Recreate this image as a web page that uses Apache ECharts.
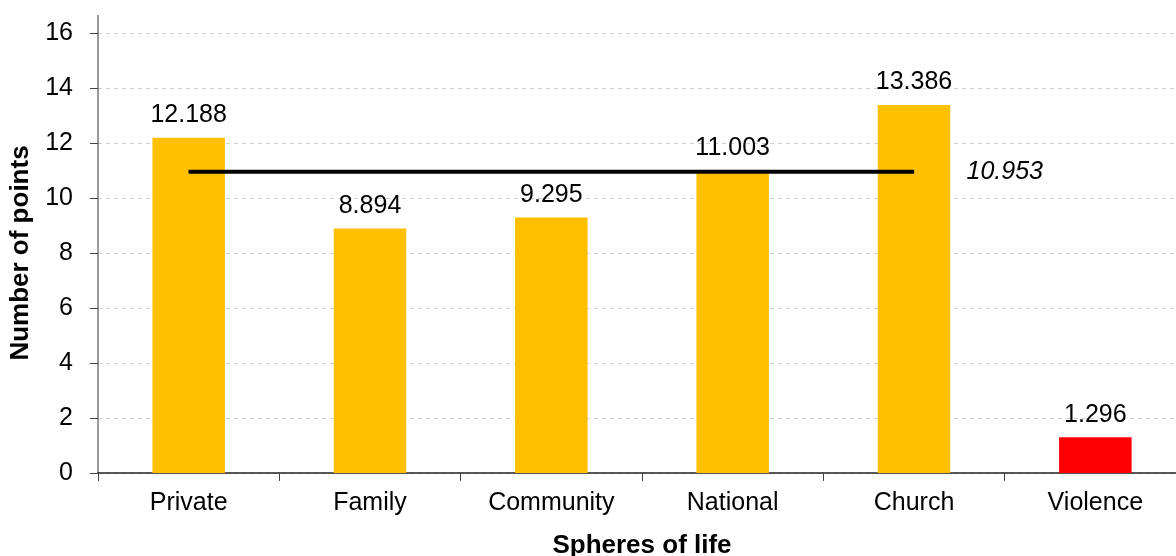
<!DOCTYPE html>
<html><head><meta charset="utf-8">
<script src="https://cdn.jsdelivr.net/npm/echarts@6/dist/echarts.min.js"></script>
<style>html,body{margin:0;padding:0;background:#fff}#c{width:1176px;height:556px}</style>
</head><body><div id="c"></div>
<script>
const categories = ['Private','Family','Community','National','Church','Violence'];
const values = [12.188, 8.894, 9.295, 11.003, 13.386, 1.296];
const barColors = ['#FFC000','#FFC000','#FFC000','#FFC000','#FFC000','#FF0000'];
const averageValue = 10.953;
const averageCats = ['Private','Family','Community','National','Church'];
const yTicks = [0,2,4,6,8,10,12,14,16];

const font = 'Liberation Sans, Arial, sans-serif';
const chart = echarts.init(document.getElementById('c'), null, {renderer:'canvas'});
const avgData = categories.map(c => averageCats.includes(c) ? averageValue : null);
const lastIdx = categories.indexOf(averageCats[averageCats.length-1]);
chart.setOption({
  animation:false,
  textStyle:{fontFamily:font},
  grid:{left:98, right:-10, top:33, bottom:83, containLabel:false, outerBoundsMode:'none'},
  xAxis:{
    type:'category', data:categories,
    name:'Spheres of life', nameLocation:'middle', nameGap:60,
    nameTextStyle:{fontSize:26, fontWeight:'bold', color:'#000', fontFamily:font},
    axisLine:{lineStyle:{color:'#222', width:1.5}},
    axisTick:{show:true, length:8, alignWithLabel:false, lineStyle:{color:'#444'}},
    axisLabel:{fontSize:25, color:'#000', margin:18, fontFamily:font}
  },
  yAxis:{
    type:'value', min:yTicks[0], max:yTicks[yTicks.length-1], interval:2,
    name:'Number of points', nameLocation:'middle', nameGap:62, nameRotate:90,
    nameTextStyle:{fontSize:26, fontWeight:'bold', color:'#000', fontFamily:font},
    axisLine:{show:true, lineStyle:{color:'#777', width:1.5}},
    axisTick:{show:true, length:8, lineStyle:{color:'#444'}},
    axisLabel:{fontSize:25, color:'#000', margin:25, fontFamily:font},
    splitLine:{show:true, lineStyle:{color:'#d0d0d0', type:[4,4], width:1}}
  },
  graphic:[{type:'line', shape:{x1:98, y1:15, x2:98, y2:33}, style:{stroke:'#777', lineWidth:1.5}}],
  series:[
    {
      type:'bar', barWidth:'40%',
      data: values.map((v,i)=>({value:v, itemStyle:{color:barColors[i]}})),
      label:{show:true, position:'top', distance:10, fontSize:25, color:'#000', fontFamily:font,
        formatter:p=>p.value.toFixed(3)}
    },
    {
      type:'line', data: avgData.map((v,i)=> i===lastIdx ? {value:v, label:{show:true}} : v),
      symbol:'circle', symbolSize:1, showSymbol:true, itemStyle:{color:'#000'},
      lineStyle:{color:'#000', width:4}, z:5,
      label:{show:false, position:'right', distance:52, fontSize:25, fontStyle:'italic', color:'#000', fontFamily:font,
        formatter:p=>p.value.toFixed(3)}
    }
  ]
});
</script></body></html>
